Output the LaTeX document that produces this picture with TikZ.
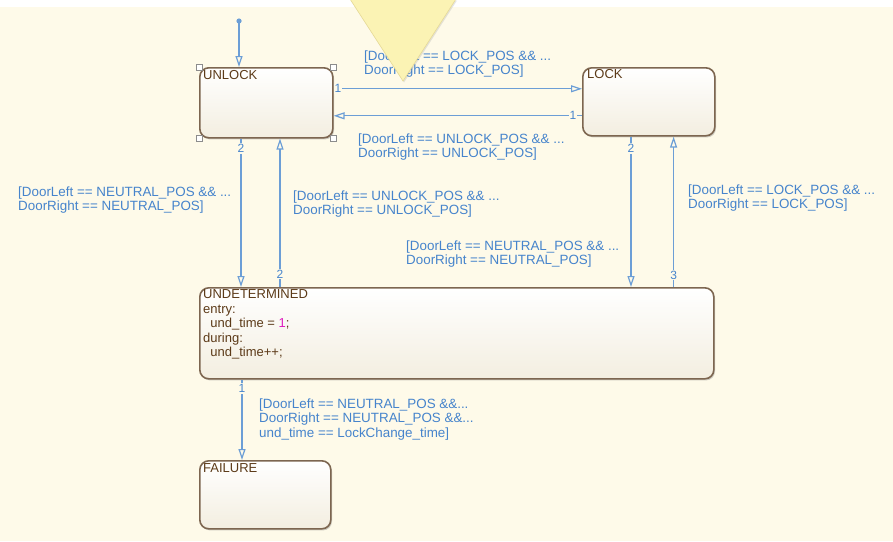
\documentclass[tikz,border=0pt]{standalone}
\usepackage{fontspec}
\setmainfont{Liberation Sans}
\usetikzlibrary{arrows.meta,shadows,calc}

\definecolor{bgcream}{RGB}{254,250,233}
\definecolor{stborder}{RGB}{125,102,80}
\definecolor{stbottom}{RGB}{243,238,224}
\definecolor{sttext}{RGB}{92,58,24}
\definecolor{trline}{RGB}{108,158,214}
\definecolor{trtext}{RGB}{70,132,204}
\definecolor{numpink}{RGB}{222,30,190}
\definecolor{tipyellow}{RGB}{251,243,180}
\definecolor{tipedge}{RGB}{230,218,150}

\newcommand{\guardlines}[1]{\begin{tabular}[t]{@{}l@{}}#1\end{tabular}}

\begin{document}
\begin{tikzpicture}[x=1pt,y=-1pt,
  font=\fontsize{13}{14.5}\selectfont,
  state/.style={draw=stborder, line width=1.6pt, rounded corners=9pt,
    top color=white, bottom color=stbottom, anchor=north west,
    inner sep=0pt,
    drop shadow={shadow xshift=1.2pt, shadow yshift=-1.6pt, opacity=0.35, fill=black!55}},
  stname/.style={text=sttext, anchor=base west, inner sep=0pt},
  guard/.style={text=trtext, anchor=base west, inner sep=0pt,
    font=\fontsize{13.4}{14.5}\selectfont},
  tr/.style={draw=trline, line width=1.3pt,
    -{Triangle[open, length=11pt, width=7pt, line width=1.2pt]}},
  num/.style={text=trtext, fill=bgcream, inner sep=1pt,
    font=\fontsize{12}{13}\selectfont},
  handle/.style={draw=black!45, fill=white, line width=0.8pt,
    minimum size=6pt, inner sep=0pt}]

\useasboundingbox (0,0) rectangle (893,541);
\fill[white] (0,0) rectangle (893,541);
\fill[bgcream] (0,7) rectangle (893,541);

% states
\node[state, minimum width=133pt, minimum height=70pt] (unlock) at (199,67) {};
\node[state, minimum width=132pt, minimum height=68pt] (lock) at (582,67) {};
\node[state, minimum width=514pt, minimum height=91pt] (undet) at (199,287) {};
\node[state, minimum width=131pt, minimum height=68pt] (failure) at (199,460) {};

\node[stname] (unlockname) at ([shift={(4,12.5)}]unlock.north west) {UNLOCK};
\node[stname] (lockname) at ([shift={(5,11.5)}]lock.north west) {LOCK};
\node[stname] (failname) at ([shift={(4,12)}]failure.north west) {FAILURE};
\node[stname, align=left] (undetname) at ([shift={(4,11.5)}]undet.north west)
  {\guardlines{UNDETERMINED\\entry:\\\ \ und\_time = \textcolor{numpink}{1};\\during:\\\ \ und\_time++;}};

% selection handles on UNLOCK
\foreach \c in {north west, north east, south west, south east}
  \node[handle] at (unlock.\c) {};

% default transition
\coordinate (dflt) at (239,21);
\fill[trline] (dflt) circle (2.6pt);
\draw[tr] (dflt) -- (dflt |- unlock.north);

% UNLOCK <-> LOCK
\draw[tr] ([yshift=14pt]unlock.east) -- ([yshift=14pt]unlock.east -| lock.west)
  node[num, pos=0.018] {1};
\draw[tr] ([yshift=-14pt]lock.west) -- ([yshift=-14pt]lock.west -| unlock.east)
  node[num, pos=0.036] {1};

% UNLOCK <-> UNDETERMINED
\draw[tr] ([xshift=42pt]unlock.south west) -- ([xshift=42pt]unlock.south west |- undet.north)
  node[num, pos=0.067] {2};
\draw[tr] ([xshift=81pt]undet.north west) -- ([xshift=81pt]undet.north west |- unlock.south)
  node[num, pos=0.087] {2};

% LOCK <-> UNDETERMINED
\draw[tr] ([xshift=49pt]lock.south west) -- ([xshift=49pt]lock.south west |- undet.north)
  node[num, pos=0.079] {2};
\draw[tr] ([xshift=-41pt]undet.north east) -- ([xshift=-41pt]undet.north east |- lock.south)
  node[num, pos=0.079] {3};

% UNDETERMINED -> FAILURE
\draw[tr] ([xshift=43pt]undet.south west) -- ([xshift=43pt]undet.south west |- failure.north)
  node[num, pos=0.11] {1};

% guards
\node[guard] (g1) at (364,60) {\guardlines{[DoorLeft == LOCK\_POS \&\& ...\\DoorRight == LOCK\_POS]}};
\node[guard] (g2) at (358,143) {\guardlines{[DoorLeft == UNLOCK\_POS \&\& ...\\DoorRight == UNLOCK\_POS]}};
\node[guard] (g3) at (18,196) {\guardlines{[DoorLeft == NEUTRAL\_POS \&\& ...\\DoorRight == NEUTRAL\_POS]}};
\node[guard] (g4) at (293,200) {\guardlines{[DoorLeft == UNLOCK\_POS \&\& ...\\DoorRight == UNLOCK\_POS]}};
\node[guard] (g5) at (406,250) {\guardlines{[DoorLeft == NEUTRAL\_POS \&\& ...\\DoorRight == NEUTRAL\_POS]}};
\node[guard] (g6) at (688,194) {\guardlines{[DoorLeft == LOCK\_POS \&\& ...\\DoorRight == LOCK\_POS]}};
\node[guard] (g7) at (259,408) {\guardlines{[DoorLeft == NEUTRAL\_POS \&\&...\\DoorRight == NEUTRAL\_POS \&\&...\\und\_time == LockChange\_time]}};

% pointer triangle over the chart
\fill[tipyellow, draw=tipedge, line width=0.6pt,
  drop shadow={shadow xshift=1pt, shadow yshift=-1.5pt, opacity=0.25, fill=black!40}]
  (350,-1) -- (456,-1) -- (403,81) -- cycle;

\end{tikzpicture}
\end{document}
